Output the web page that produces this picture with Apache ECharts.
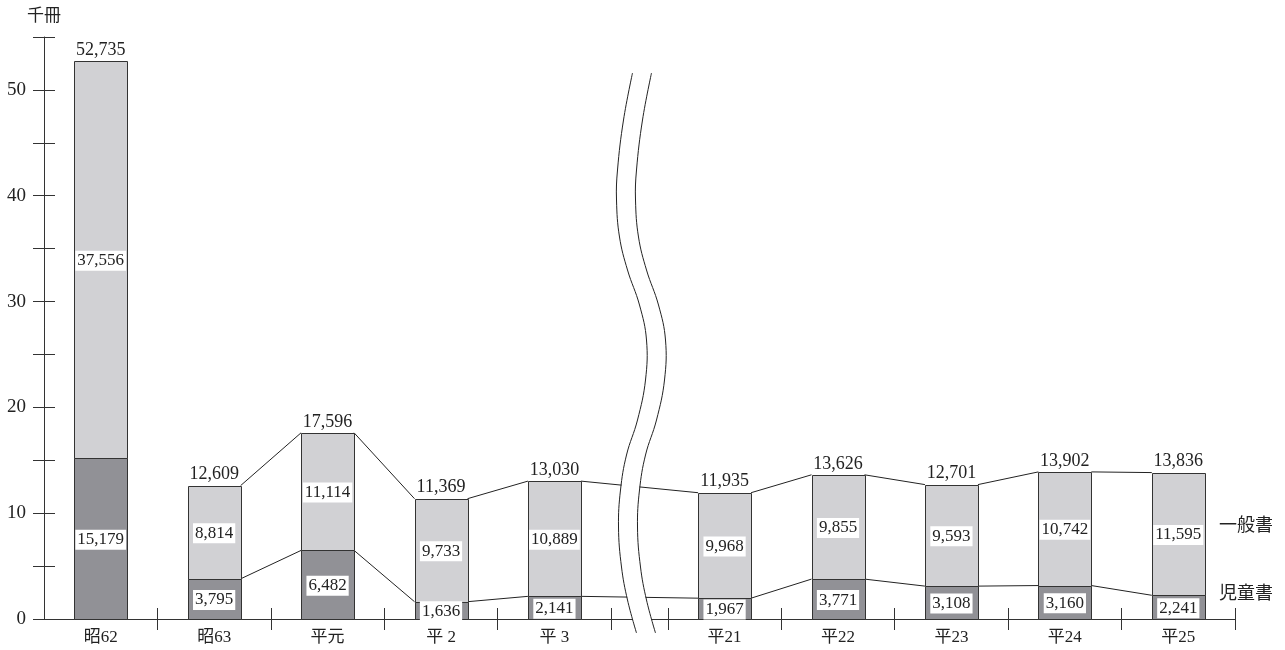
<!DOCTYPE html>
<html>
<head>
<meta charset="utf-8">
<script src="https://cdn.jsdelivr.net/npm/echarts@6/dist/echarts.min.js"></script>
<style>
  html, body { margin: 0; padding: 0; background: #fff; }
  #chart { width: 1285px; height: 650px; }
</style>
</head>
<body>
<div id="chart"></div>
<script>
const categories = ['昭62', '昭63', '平元', '平 2', '平 3', '平21', '平22', '平23', '平24', '平25'];
const generalBooks = [37556, 8814, 11114, 9733, 10889, 9968, 9855, 9593, 10742, 11595];
const childBooks = [15179, 3795, 6482, 1636, 2141, 1967, 3771, 3108, 3160, 2241];
const totals = [52735, 12609, 17596, 11369, 13030, 11935, 13626, 12701, 13902, 13836];
const yLabels = [0, 10, 20, 30, 40, 50];

const FONT = "'Liberation Serif', 'Noto Sans CJK JP', serif";
const LINE = '#333';
const BAR_W = 53;
// 平3 の後で軸を省略（半区間あける）
const breakAfter = 4;
const pos = i => i + (i > breakAfter ? 0.5 : 0);
const fmt = v => v.toLocaleString('en-US');

const xCenters = categories.map((c, i) => pos(i));
const xBounds = categories.map((c, i) => pos(i) + 0.5).concat([pos(breakAfter + 1) - 0.5]);

// 積み上げ: [x, 下端, 上端]
const childData = childBooks.map((v, i) => [pos(i), 0, v]);
const generalData = generalBooks.map((v, i) => [pos(i), childBooks[i], childBooks[i] + v]);

// 連結線（昭63 以降、隣り合う棒どうし）
const links = [];
for (let i = 1; i < categories.length - 1; i++) {
  links.push([pos(i), totals[i], childBooks[i], pos(i + 1), totals[i + 1], childBooks[i + 1]]);
}

// 省略記号の波線（中心からのピクセル差）
const wave = [[-7, -546], [-16, -499], [-22, -449], [-23, -419], [-20, -382], [-12, -349], [0, -314],
  [7, -279], [6, -239], [-2, -199], [-13, -164], [-19, -129], [-21, -92], [-18, -52], [-12, -19], [-3, 14]];

function stackItem(color) {
  return (params, api) => {
    const lo = api.coord([api.value(0), api.value(1)]);
    const hi = api.coord([api.value(0), api.value(2)]);
    const x = Math.round(lo[0] - BAR_W / 2) + 0.5;
    const y = Math.round(hi[1]) + 0.5;
    const h = Math.round(lo[1]) - Math.round(hi[1]);
    return {
      type: 'group',
      children: [
        { type: 'rect', shape: { x: x, y: y, width: BAR_W, height: h },
          style: { fill: color, stroke: LINE, lineWidth: 1 } },
        { type: 'text', z2: 5,
          style: {
            x: lo[0], y: (lo[1] + hi[1]) / 2 + 1, text: fmt(api.value(2) - api.value(1)),
            align: 'center', verticalAlign: 'middle',
            backgroundColor: '#fff', padding: [2, 2, 1, 2],
            fill: '#222', fontSize: 17, fontFamily: FONT
          } }
      ]
    };
  };
}

const chart = echarts.init(document.getElementById('chart'));
chart.setOption({
  animation: false,
  grid: { left: 44, right: 50, top: 37, bottom: 31 },
  xAxis: [
    {
      type: 'value', min: -0.5, max: 10, position: 'bottom',
      axisLine: { show: true, onZero: false, lineStyle: { color: LINE, width: 1 } },
      axisTick: { show: true, length: 11, customValues: xBounds, lineStyle: { color: LINE } },
      axisLabel: {
        customValues: xCenters,
        formatter: v => categories[xCenters.indexOf(v)] || '',
        color: '#222', fontSize: 17, fontFamily: FONT, margin: 10
      },
      splitLine: { show: false }
    },
    {
      type: 'value', min: -0.5, max: 10, position: 'bottom', offset: 0,
      axisLine: { show: false, onZero: false },
      axisTick: { show: true, inside: true, length: 11, customValues: xBounds, lineStyle: { color: LINE } },
      axisLabel: { show: false },
      splitLine: { show: false }
    }
  ],
  yAxis: [
    {
      type: 'value', min: 0, max: 55000, interval: 5000, position: 'left',
      name: '千冊', nameLocation: 'end', nameGap: 12,
      nameTextStyle: { color: '#222', fontSize: 17, fontFamily: FONT, align: 'center' },
      axisLine: { show: true, onZero: false, lineStyle: { color: LINE, width: 1 } },
      axisTick: { show: true, length: 11, lineStyle: { color: LINE } },
      axisLabel: {
        formatter: v => (yLabels.indexOf(v / 1000) >= 0 ? String(v / 1000) : ''),
        color: '#222', fontSize: 19, fontFamily: FONT, margin: 18
      },
      splitLine: { show: false }
    },
    {
      type: 'value', min: 0, max: 55000, interval: 5000, position: 'left', offset: 0,
      axisLine: { show: false, onZero: false },
      axisTick: { show: true, inside: true, length: 11, lineStyle: { color: LINE } },
      axisLabel: { show: false },
      splitLine: { show: false }
    }
  ],
  series: [
    {
      name: '児童書', type: 'custom', silent: true, z: 5,
      encode: { x: 0, y: [1, 2] },
      data: childData,
      renderItem: stackItem('#919196')
    },
    {
      name: '一般書', type: 'custom', silent: true, z: 5,
      encode: { x: 0, y: [1, 2] },
      data: generalData,
      renderItem: stackItem('#d1d1d4')
    },
    {
      name: 'links', type: 'custom', silent: true, z: 3,
      encode: { x: [0, 3], y: [1, 2, 4, 5] },
      data: links,
      renderItem: (params, api) => {
        const h = BAR_W / 2;
        const a = api.coord([api.value(0), api.value(1)]);
        const b = api.coord([api.value(3), api.value(4)]);
        const c = api.coord([api.value(0), api.value(2)]);
        const d = api.coord([api.value(3), api.value(5)]);
        const st = { stroke: '#222', lineWidth: 1 };
        return {
          type: 'group',
          children: [
            { type: 'line', shape: { x1: a[0] + h, y1: a[1], x2: b[0] - h, y2: b[1] }, style: st },
            { type: 'line', shape: { x1: c[0] + h, y1: c[1], x2: d[0] - h, y2: d[1] }, style: st }
          ]
        };
      }
    },
    {
      name: 'totals', type: 'custom', silent: true, z: 6,
      encode: { x: 0, y: 1 },
      data: totals.map((v, i) => [pos(i), v]),
      renderItem: (params, api) => {
        const p = api.coord([api.value(0), api.value(1)]);
        return {
          type: 'text',
          style: {
            x: p[0], y: p[1] - 2, text: fmt(api.value(1)),
            align: 'center', verticalAlign: 'bottom',
            fill: '#222', fontSize: 18, fontFamily: FONT
          }
        };
      }
    },
    {
      name: 'break', type: 'custom', silent: true, z: 10,
      encode: { x: 0, y: 1 },
      data: [[pos(breakAfter) + 0.75, 0]],
      renderItem: (params, api) => {
        const o = api.coord([api.value(0), 0]);
        const pts = dx => wave.map(p => [o[0] + p[0] + dx, o[1] + p[1]]);
        return {
          type: 'group',
          children: [
            { type: 'polyline', shape: { points: pts(9.5), smooth: 0.4 }, style: { stroke: '#fff', lineWidth: 18, fill: null } },
            { type: 'polyline', shape: { points: pts(0), smooth: 0.4 }, style: { stroke: '#222', lineWidth: 1, fill: null } },
            { type: 'polyline', shape: { points: pts(19), smooth: 0.4 }, style: { stroke: '#222', lineWidth: 1, fill: null } }
          ]
        };
      }
    }
  ],
  graphic: [
    { type: 'text', left: 1219, top: 517, style: { text: '一般書', fill: '#222', fontSize: 18, fontFamily: FONT } },
    { type: 'text', left: 1219, top: 585, style: { text: '児童書', fill: '#222', fontSize: 18, fontFamily: FONT } }
  ]
});
</script>
</body>
</html>
